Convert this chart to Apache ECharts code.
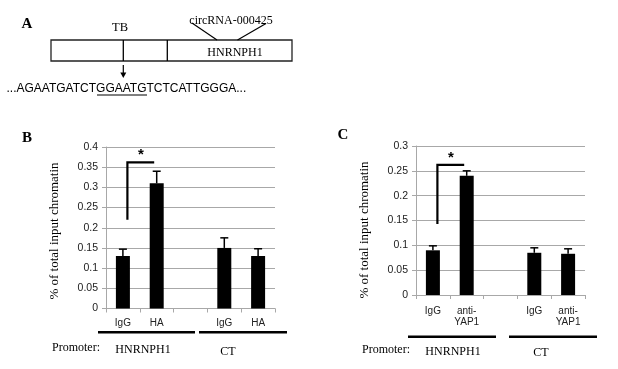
<!DOCTYPE html>
<html><head><meta charset="utf-8">
<script src="https://cdn.jsdelivr.net/npm/echarts@6/dist/echarts.min.js"></script>
<style>html,body{margin:0;padding:0;background:#fff}#c{width:618px;height:369px}</style>
</head><body><div id="c"></div>
<script>
// Panel B data
const catsB = ['IgG', 'HA', '', 'IgG', 'HA'];
const valsB = [0.13, 0.31, null, 0.15, 0.13];
const errTopB = [0.147, 0.34, null, 0.175, 0.148];
const bracketB = [0.22, 0.362];
const yMaxB = 0.4;
// Panel C data
const catsC = ['IgG', 'anti-\nYAP1', '', 'IgG', 'anti-\nYAP1'];
const valsC = [0.09, 0.24, null, 0.085, 0.083];
const errTopC = [0.099, 0.25, null, 0.095, 0.093];
const bracketC = [0.143, 0.262];
const yMaxC = 0.3;
const yInterval = 0.05;
const groups = ['HNRNPH1', 'CT'];
const rowLabel = 'Promoter:';
const yTitle = '% of total input chromatin';

const SANS = 'Liberation Sans, Arial, sans-serif';
const SERIF = 'Liberation Serif, Times New Roman, serif';
const GRID_COL = '#a8a8a8';

function errData(vals, tops) {
  return vals.map((v, i) => v == null ? null : [i, v, tops[i]]).filter(d => d);
}
function errRender(params, api) {
  const p0 = api.coord([api.value(0), api.value(1)]);
  const p1 = api.coord([api.value(0), api.value(2)]);
  return { type: 'group', children: [
    { type: 'line', shape: { x1: p0[0], y1: p0[1], x2: p1[0], y2: p1[1] }, style: { stroke: '#000', lineWidth: 1.5 } },
    { type: 'line', shape: { x1: p1[0] - 4, y1: p1[1], x2: p1[0] + 4, y2: p1[1] }, style: { stroke: '#000', lineWidth: 1.5 } }
  ]};
}
function bracketRender(params, api) {
  const pb = api.coord([api.value(0), api.value(2)]);
  const pt = api.coord([api.value(0), api.value(3)]);
  const ph = api.coord([api.value(1), api.value(3)]);
  const xv = pb[0] + 4.5, xh = ph[0] - 2.5;
  return { type: 'group', children: [
    { type: 'polyline', shape: { points: [[xv, pb[1]], [xv, pt[1]], [xh, ph[1]]] }, style: { stroke: '#000', lineWidth: 2.2, fill: null } },
    { type: 'text', x: (xv + xh) / 2, y: pt[1] - 7, style: { text: '*', font: 'bold 15px ' + SANS, textAlign: 'center', textVerticalAlign: 'middle', fill: '#000' } }
  ]};
}
function xAxisCfg(cats, gi, margin) {
  return { type: 'category', gridIndex: gi, data: cats,
    axisLine: { lineStyle: { color: GRID_COL, width: 1 } },
    axisTick: { show: true, alignWithLabel: false, length: 4, lineStyle: { color: GRID_COL } },
    axisLabel: { fontFamily: SANS, fontSize: 10, color: '#222', margin: margin, lineHeight: 11, interval: 0 } };
}
function yAxisCfg(max, gi) {
  return { type: 'value', gridIndex: gi, min: 0, max: max, interval: yInterval,
    axisLine: { show: true, lineStyle: { color: GRID_COL, width: 1 } },
    axisTick: { show: true, length: 4, lineStyle: { color: GRID_COL } },
    splitLine: { lineStyle: { color: GRID_COL, width: 1 } },
    axisLabel: { fontFamily: SANS, fontSize: 10.5, color: '#222', margin: 8 } };
}

const T = (x, y, text, font, align, extra) => Object.assign({ type: 'text', x: x, y: y,
  style: { text: text, font: font, textAlign: align || 'center', textVerticalAlign: 'middle', fill: '#000' } }, extra || {});
const L = (x1, y1, x2, y2, w) => ({ type: 'line', shape: { x1, y1, x2, y2 }, style: { stroke: '#000', lineWidth: w || 1.3 } });

const graphic = [
  // Panel A
  T(27, 24, 'A', 'bold 15px ' + SERIF),
  { type: 'rect', shape: { x: 51, y: 40, width: 241, height: 21 }, style: { stroke: '#222', lineWidth: 1.3, fill: '#fff' } },
  L(123.3, 40, 123.3, 61), L(167.3, 40, 167.3, 61),
  T(120, 28, 'TB', '12.5px ' + SERIF),
  T(231, 21, 'circRNA-000425', '12px ' + SERIF),
  L(192, 23, 217, 40, 1.2), L(266, 23.5, 237.5, 40, 1.2),
  T(235, 52.5, 'HNRNPH1', '12px ' + SERIF),
  L(123.3, 65, 123.3, 74, 1.2),
  { type: 'polygon', shape: { points: [[120.3, 72.5], [126.3, 72.5], [123.3, 78]] }, style: { fill: '#000' } },
  T(6.5, 88.5, '...AGAATGATCTGGAATGTCTCATTGGGA...', '12px ' + SANS, 'left'),
  L(97, 95, 147, 95, 1),
  // Panel B annotations
  T(27, 138, 'B', 'bold 15px ' + SERIF),
  T(55, 231, yTitle, '13px ' + SERIF, 'center', { rotation: Math.PI / 2 }),
  L(98, 332.3, 195, 332.3, 2.6), L(199, 332.3, 287, 332.3, 2.6),
  T(52, 348, rowLabel, '12px ' + SERIF, 'left'),
  T(143, 350, groups[0], '12px ' + SERIF),
  T(228, 351.5, groups[1], '12px ' + SERIF),
  // Panel C annotations
  T(343, 135, 'C', 'bold 15px ' + SERIF),
  T(365, 230, yTitle, '13px ' + SERIF, 'center', { rotation: Math.PI / 2 }),
  L(408, 336.7, 496, 336.7, 2.6), L(509, 336.7, 597, 336.7, 2.6),
  T(362, 350, rowLabel, '12px ' + SERIF, 'left'),
  T(453, 351.5, groups[0], '12px ' + SERIF),
  T(541, 353, groups[1], '12px ' + SERIF)
];

const chart = echarts.init(document.getElementById('c'), null, { renderer: 'canvas' });
chart.setOption({
  animation: false,
  backgroundColor: '#fff',
  grid: [
    { left: 106, top: 147, width: 169, height: 161.5 },
    { left: 416, top: 146, width: 169, height: 149 }
  ],
  xAxis: [xAxisCfg(catsB, 0, 9), xAxisCfg(catsC, 1, 11)],
  yAxis: [yAxisCfg(yMaxB, 0), yAxisCfg(yMaxC, 1)],
  series: [
    { type: 'bar', xAxisIndex: 0, yAxisIndex: 0, data: valsB, barWidth: 14, itemStyle: { color: '#000' } },
    { type: 'custom', xAxisIndex: 0, yAxisIndex: 0, data: errData(valsB, errTopB), renderItem: errRender, z: 3 },
    { type: 'custom', xAxisIndex: 0, yAxisIndex: 0, data: [[0, 1, bracketB[0], bracketB[1]]], renderItem: bracketRender, z: 4, clip: false },
    { type: 'bar', xAxisIndex: 1, yAxisIndex: 1, data: valsC, barWidth: 14, itemStyle: { color: '#000' } },
    { type: 'custom', xAxisIndex: 1, yAxisIndex: 1, data: errData(valsC, errTopC), renderItem: errRender, z: 3 },
    { type: 'custom', xAxisIndex: 1, yAxisIndex: 1, data: [[0, 1, bracketC[0], bracketC[1]]], renderItem: bracketRender, z: 4, clip: false }
  ],
  graphic: { elements: graphic }
});
</script></body></html>
